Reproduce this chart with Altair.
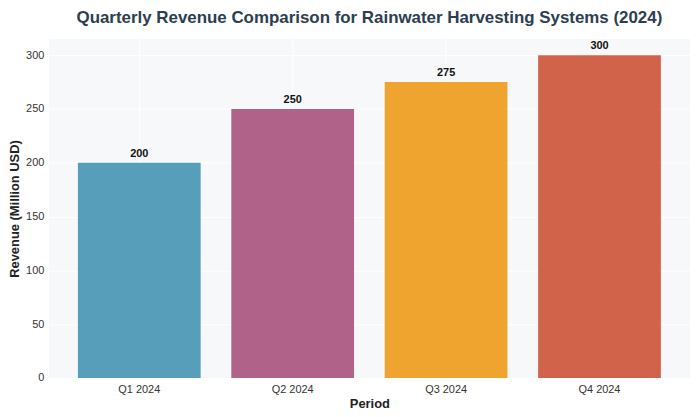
import pandas as pd
import altair as alt

periods = ["Q1 2024", "Q2 2024", "Q3 2024", "Q4 2024"]
revenue = [200, 250, 275, 300]
bar_colors = ["#569eba", "#b06289", "#f0a430", "#d0634a"]

df = pd.DataFrame({"Period": periods, "Revenue": revenue})

font = "Liberation Sans"

x_enc = alt.X(
    "Period:N",
    sort=periods,
    scale=alt.Scale(paddingInner=0.2, paddingOuter=0.19),
    axis=alt.Axis(
        title="Period",
        titleFontSize=13,
        titleFontWeight="bold",
        titleColor="#222222",
        titlePadding=3,
        labelAngle=0,
        labelFontSize=11,
        labelColor="#333333",
        labelPadding=6,
        ticks=False,
        domain=False,
        grid=True,
        gridColor="#ffffff",
        gridWidth=1,
    ),
)
y_enc = alt.Y(
    "Revenue:Q",
    scale=alt.Scale(domain=[0, 315], nice=False),
    axis=alt.Axis(
        title="Revenue (Million USD)",
        titleFontSize=13,
        titleFontWeight="bold",
        titleColor="#222222",
        titlePadding=4,
        values=[0, 50, 100, 150, 200, 250, 300],
        labelFontSize=11,
        labelColor="#333333",
        labelPadding=5,
        ticks=False,
        domain=False,
        gridColor="#ffffff",
        gridWidth=1,
    ),
)

base = alt.Chart(df).encode(x=x_enc, y=y_enc)

bars = base.mark_bar().encode(
    color=alt.Color(
        "Period:N",
        scale=alt.Scale(domain=periods, range=bar_colors),
        legend=None,
    )
)

labels = base.mark_text(
    dy=-9, fontSize=11, fontWeight="bold", color="#111111", font=font
).encode(text="Revenue:Q")

chart = (
    (bars + labels)
    .properties(
        width=645,
        height=341,
        title=alt.TitleParams(
            "Quarterly Revenue Comparison for Rainwater Harvesting Systems (2024)",
            fontSize=17,
            fontWeight="bold",
            color="#2c3e50",
            font=font,
            anchor="middle",
            offset=12,
        ),
        padding={"left": 0, "top": 0, "right": 2, "bottom": 0},
    )
    .configure_view(fill="#f7f8fa", stroke=None)
    .configure_axis(labelFont=font, titleFont=font)
)

chart.save("out.html", embed_options={"renderer": "svg", "actions": False})
